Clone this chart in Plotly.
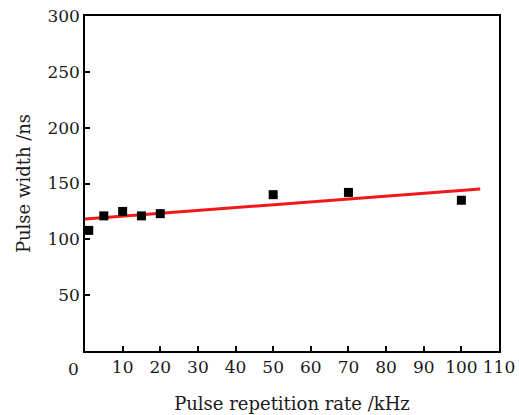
import numpy as np
import plotly.graph_objects as go

rate_khz = [1, 5, 10, 15, 20, 50, 70, 100]
pulse_width_ns = [108, 121, 125, 121, 123, 140, 142, 135]
fit_x = [0, 105]
x_ticks = [10, 20, 30, 40, 50, 60, 70, 80, 90, 100, 110]
y_ticks = [50, 100, 150, 200, 250, 300]

slope, intercept = np.polyfit(rate_khz, pulse_width_ns, 1)
fit_y = [slope * v + intercept for v in fit_x]

font = "DejaVu Serif"
fig = go.Figure()
fig.add_trace(go.Scatter(x=fit_x, y=fit_y, mode="lines",
                         line=dict(color="#f01818", width=3), showlegend=False))
fig.add_trace(go.Scatter(x=rate_khz, y=pulse_width_ns, mode="markers",
                         marker=dict(symbol="square", size=9, color="black"),
                         showlegend=False, cliponaxis=False))

axis_common = dict(showline=True, linecolor="black", linewidth=1.5, mirror=True,
                   ticks="inside", ticklen=5, tickwidth=1.5, tickcolor="black",
                   showgrid=False, zeroline=False, automargin=False,
                   tickfont=dict(family=font, size=17, color="#1a1a1a"))
fig.update_xaxes(range=[0, 110], tickvals=x_ticks, **axis_common,
                 title=dict(text="Pulse repetition rate /kHz", standoff=21,
                            font=dict(family=font, size=18, color="#1a1a1a")))
fig.update_yaxes(range=[0, 300], tickvals=y_ticks, **axis_common,
                 title=dict(text="Pulse width /ns", standoff=12,
                            font=dict(family=font, size=18, color="#1a1a1a")))
fig.add_annotation(x=0, xref="x", y=0, yref="paper", yanchor="top", yshift=-6,
                   xshift=-12, text="0", showarrow=False,
                   font=dict(family=font, size=17, color="#1a1a1a"))
fig.update_layout(width=519, height=415, plot_bgcolor="white", paper_bgcolor="white",
                  margin=dict(l=85, r=20, t=16, b=64))
fig.write_html("out.html")
